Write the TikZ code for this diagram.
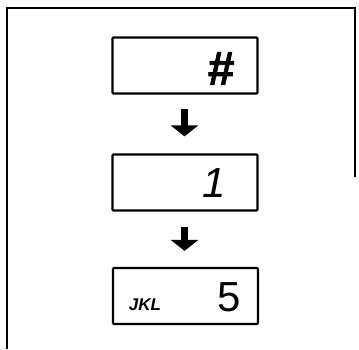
\documentclass[tikz,border=0pt]{standalone}
\usepackage{fontspec}
\setmainfont{Liberation Sans}
\newfontfamily\heavyfont[FakeBold=1.5]{Liberation Sans Bold Italic}
\usetikzlibrary{arrows.meta}
\tikzset{every picture/.style={x=1pt, y=-1pt}}
\tikzset{lcd/.style = {draw, line width=2.2pt, minimum width=145pt, minimum height=56pt, inner sep=0, rounded corners=1pt}}
\tikzset{key/.style = {inner sep=0, font=\fontsize{42}{42}\selectfont\itshape}}
\tikzset{down/.style = {line width=7pt, -{Triangle[width=27pt,length=11pt]}}}

\begin{document}
\begin{tikzpicture}
    \useasboundingbox (0,0) rectangle (359,349);
    % frame
    \draw[line width=1.6pt] (355,177) -- (355,8) -- (7,8) -- (7,349);

    \node[lcd] (b1) at (185,65.5) {};
    \node[lcd] (b2) at (185,182.5) {};
    \node[lcd] (b3) at (185.5,296) {};

    \node[inner sep=0, font=\fontsize{48}{48}\heavyfont] (hash) at (220.5,68.5) {\#};
    \node[key] (one) at (214,183) {1};
    \node[inner sep=0, font=\fontsize{42}{42}\selectfont] (five) at (229,297) {5};
    \node[inner sep=0, font=\fontsize{17}{17}\selectfont\bfseries\itshape] (jkl) at (145,305) {JKL};

    \draw[down, shorten <=14pt, shorten >=17pt] ([xshift=-0.5pt]b1.south) -- ([xshift=-0.5pt]b2.north);
    \draw[down, shorten <=15pt, shorten >=16pt] ([xshift=-0.5pt]b2.south) -- ([xshift=-1pt]b3.north);
\end{tikzpicture}
\end{document}
